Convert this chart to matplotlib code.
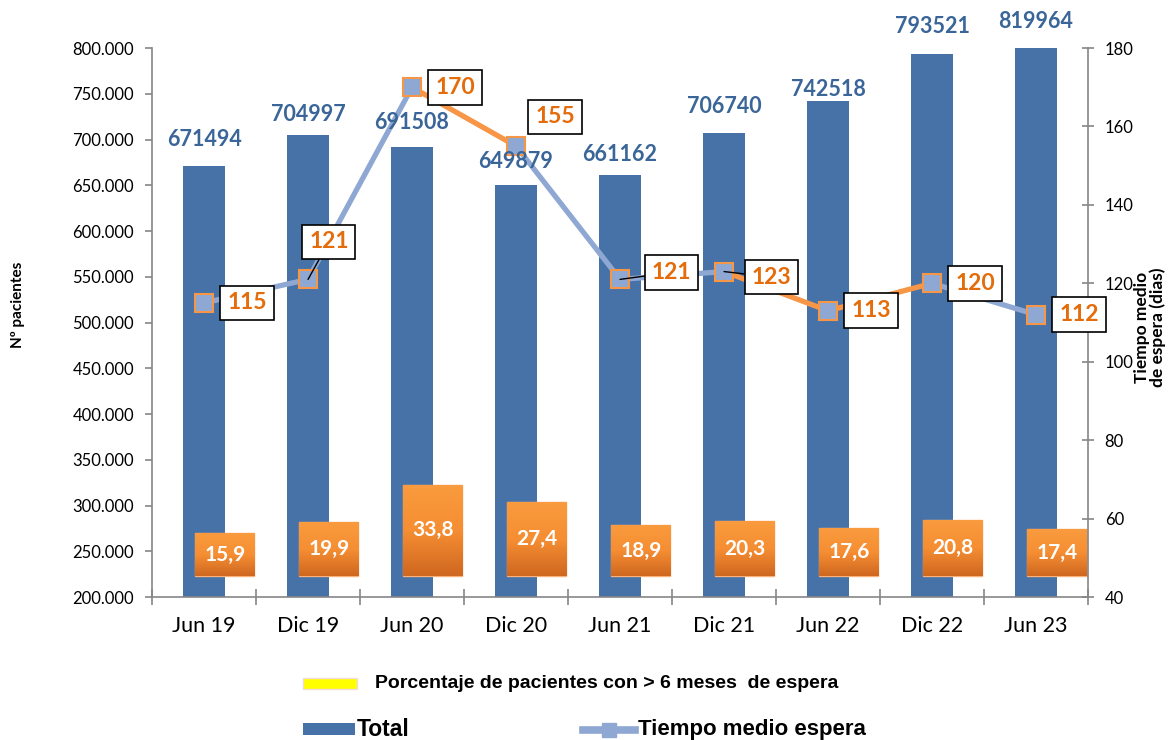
import numpy as np
import matplotlib.pyplot as plt
from matplotlib.patches import Rectangle
from matplotlib.lines import Line2D
from matplotlib.colors import LinearSegmentedColormap

# Datos
periodos = ['Jun 19', 'Dic 19', 'Jun 20', 'Dic 20', 'Jun 21', 'Dic 21', 'Jun 22', 'Dic 22', 'Jun 23']
total = [671494, 704997, 691508, 649879, 661162, 706740, 742518, 793521, 819964]
tiempo_medio = [115, 121, 170, 155, 121, 123, 113, 120, 112]
pct_6meses = [15.9, 19.9, 33.8, 27.4, 18.9, 20.3, 17.6, 20.8, 17.4]

# Colores
AZUL = '#4672A7'
AZUL_TXT = '#3A6598'
AZUL_CLARO = '#8EA8D3'
NARANJA = '#F79646'
NARANJA_TXT = '#E46C0A'
GRIS = '#868686'

plt.rcParams['font.family'] = ['Lato', 'DejaVu Sans']

fig = plt.figure(figsize=(11.74, 7.4), dpi=100)
ax1 = fig.add_axes([0.1295, 0.1932, 0.7973, 0.7419])
ax2 = ax1.twinx()
x = np.arange(len(periodos))

# Barras del total
ax1.bar(x, total, width=0.4, color=AZUL, zorder=2)

# Cajas naranjas con el porcentaje (> 6 meses)
base = 223000
alturas = np.array(pct_6meses) * 2950
cajas = ax1.bar(x + 0.2, alturas, width=0.57, bottom=base, color=NARANJA,
                edgecolor='#F9B27A', linewidth=1, zorder=3)
grad = np.linspace(0, 1, 64).reshape(-1, 1)
cmap = LinearSegmentedColormap.from_list('nar', ['#CF6820', '#F68E33', '#F99B3E'])
for rect, p in zip(cajas, pct_6meses):
    x0, y0 = rect.get_x(), rect.get_y()
    w, h = rect.get_width(), rect.get_height()
    im = ax1.imshow(grad, extent=[x0, x0 + w, y0, y0 + h], origin='lower',
                    cmap=cmap, aspect='auto', zorder=3.5)
    im.set_clip_path(rect)
    ax1.text(x0 + w / 2, y0 + h / 2, f'{p:.1f}'.replace('.', ','), color='white',
             fontsize=15, fontweight='bold', ha='center', va='center', zorder=4)

ax1.set_xlim(-0.5, len(periodos) - 0.5)
ax1.set_ylim(200000, 800000)

# Linea del tiempo medio (tramos naranjas donde se resalta)
tramos_naranja = {2, 5, 6}
for i in range(len(x) - 1):
    ax2.plot(x[i:i + 2], tiempo_medio[i:i + 2], lw=3.8, solid_capstyle='butt',
             color=NARANJA if i in tramos_naranja else AZUL_CLARO, zorder=3)
ax2.plot(x, tiempo_medio, ls='none', marker='s', ms=12.5, mfc=AZUL_CLARO,
         mec=NARANJA, mew=1.5, zorder=4)
ax2.set_ylim(40, 180)

# Etiquetas de la linea
desplaz = [(31, 0), (15, 27), (31, 0), (28, 21), (37, 5), (34, -4), (31, 0), (31, 0), (31, 0)]
con_guia = {1, 4, 5}
for i, (xi, v) in enumerate(zip(x, tiempo_medio)):
    flecha = dict(arrowstyle='-', color='black', lw=1, shrinkA=0, shrinkB=0) if i in con_guia else None
    ax2.annotate(str(v), xy=(xi, v), xytext=desplaz[i], textcoords='offset points',
                 ha='center', va='center', fontsize=16.5, fontweight='bold', color=NARANJA_TXT,
                 bbox=dict(boxstyle='square,pad=0.3', fc='white', ec='black', lw=1.2),
                 arrowprops=flecha, zorder=6)

# Etiquetas de las barras
dy = [19, 15, 18, 17, 15, 19, 8, 20, 19]
for i, (xi, v) in enumerate(zip(x, total)):
    ax2.annotate(str(v), xy=(xi, min(v, 800000)), xycoords=ax1.transData,
                 xytext=(0, dy[i]), textcoords='offset points', ha='center', va='center',
                 fontsize=15.5, fontweight='bold', color=AZUL_TXT,
                 annotation_clip=False, zorder=5)

# Ejes
ax1.set_xticks(x)
ax1.set_xticklabels(periodos, fontsize=15.5)
ax1.set_xticks(np.arange(-0.5, len(periodos), 1), minor=True)
ax1.tick_params(axis='x', which='major', length=0, pad=14)
ax1.tick_params(axis='x', which='minor', length=11, direction='inout', color=GRIS, width=1.2)

yt = np.arange(200000, 800001, 50000)
ax1.set_yticks(yt)
ax1.set_yticklabels([f'{v:,.0f}'.replace(',', '.') for v in yt], fontsize=12)
ax1.tick_params(axis='y', length=5, direction='out', color=GRIS, width=1.2, pad=8)

ax2.set_yticks(np.arange(40, 181, 20))
ax2.tick_params(axis='y', labelsize=12, length=8, direction='inout', color=GRIS, width=1.2, pad=8)

for s in ['top', 'right']:
    ax1.spines[s].set_visible(False)
for s in ['top', 'left', 'bottom']:
    ax2.spines[s].set_visible(False)
for sp in [ax1.spines['left'], ax1.spines['bottom'], ax2.spines['right']]:
    sp.set_color(GRIS)
    sp.set_linewidth(1.2)

fig.text(18 / 1174, 1 - 305 / 740, 'Nº pacientes', rotation=90, fontsize=11,
         fontweight='bold', ha='center', va='center')
fig.text(1150 / 1174, 1 - 327 / 740, 'Tiempo medio\nde espera (dias)', rotation=90,
         fontsize=12.5, fontweight='bold', ha='center', va='center', multialignment='center',
         linespacing=1.0)

# Leyenda
W, H = 1174, 740
fig.add_artist(Rectangle((303 / W, 1 - 689 / H), 54 / W, 11 / H, transform=fig.transFigure,
                         fc='#FFFF00', ec='#F2DCDB', lw=1))
fig.text(375 / W, 1 - 684 / H, 'Porcentaje de pacientes con > 6 meses  de espera',
         family='Liberation Sans', fontweight='bold', fontsize=14, va='center')
fig.add_artist(Rectangle((303 / W, 1 - 735 / H), 52 / W, 12 / H, transform=fig.transFigure,
                         fc=AZUL, ec='none'))
fig.text(357 / W, 1 - 729 / H, 'Total', family='Liberation Sans', fontweight='bold',
         fontsize=16.5, va='center')
yl = 1 - 730 / H
fig.add_artist(Line2D([583 / W, 635 / W], [yl, yl], transform=fig.transFigure,
                      color=AZUL_CLARO, lw=5.5))
fig.add_artist(Line2D([609 / W], [yl], transform=fig.transFigure, marker='s', ms=10,
                      mfc=AZUL_CLARO, mec=AZUL_CLARO, ls='none'))
fig.text(638 / W, 1 - 729 / H, 'Tiempo medio espera', family='Liberation Sans',
         fontweight='bold', fontsize=16, va='center')

fig.savefig('out.png', dpi=100)
plt.close(fig)
